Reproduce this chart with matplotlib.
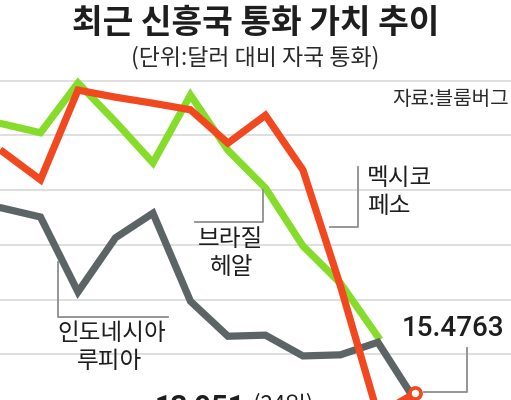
import matplotlib
matplotlib.use('Agg')
import matplotlib.pyplot as plt

plt.rcParams['font.family'] = ['Noto Sans CJK KR', 'DejaVu Sans']

# Values (relative scale, one step = one grid line)
months = list(range(12))
brazil_real = [5.21, 5.05, 5.96, 5.25, 4.50, 5.74, 4.73, 4.04, 2.98, 2.30, 1.32]
mexico_peso = [4.70, 4.19, 5.83, 5.70, 5.59, 5.47, 4.86, 5.37, 4.37, 2.25, -0.10, 0.29]
indonesia_rupiah = [3.67, 3.51, 2.14, 3.13, 3.58, 1.97, 1.33, 1.35, 0.97, 0.99, 1.22, 0.15]
grid_levels = [1, 2, 3, 4, 5, 6]

GREEN = '#86dc2a'
RED = '#f2481f'
GRAY = '#5d6466'
LEADER = '#8a8f91'
INK = '#1e1e1e'

fig = plt.figure(figsize=(5.11, 4.0), dpi=100)
ax = fig.add_axes([0, 0, 1, 1])
ax.set_xlim(-0.08, 13.55)
ax.set_ylim(0.1645, 7.477)
for s in ax.spines.values():
    s.set_visible(False)
ax.set_yticks(grid_levels)
ax.set_xticks([])
ax.tick_params(left=False, labelleft=False)
ax.grid(axis='y', color='#dcdcdc', lw=1.3)
ax.set_axisbelow(True)

lw = 5.2
ax.plot(months[:len(brazil_real)], brazil_real, color=GREEN, lw=lw, solid_joinstyle='miter', zorder=3)
ax.plot(months, indonesia_rupiah, color=GRAY, lw=lw, solid_joinstyle='miter', zorder=4)
ax.plot(months, mexico_peso, color=RED, lw=lw, solid_joinstyle='miter', zorder=5)
ax.plot(months[-1], mexico_peso[-1], 'o', ms=8, mfc='white', mec=RED, mew=2.6, zorder=6)

# titles
fig.text(0.5, 0.94, '최근 신흥국 통화 가치 추이', ha='center', va='center',
         fontsize=24, fontweight='black', color=INK)
fig.text(0.5, 0.855, '(단위:달러 대비 자국 통화)', ha='center', va='center',
         fontsize=16.5, fontweight='medium', color='#2a2a2a')
fig.text(0.995, 0.752, '자료:블룸버그', ha='right', va='center',
         fontsize=14.5, fontweight='medium', color='#2a2a2a')

# leader lines (figure pixel coordinates -> fraction)
def px(x, y):
    return x / 511, 1 - y / 400

def leader(points):
    xs, ys = zip(*[px(x, y) for x, y in points])
    fig.add_artist(plt.Line2D(xs, ys, color=LEADER, lw=1.3))

leader([(330, 227), (358, 227), (358, 167)])
leader([(195, 222), (263, 222), (263, 190)])
leader([(58, 262), (58, 317), (168, 317)])
leader([(424, 392), (467, 392), (467, 348)])

# series labels
label_kw = dict(fontsize=17, fontweight='medium', color=INK, va='center')
fig.text(*px(367, 178), '멕시코', ha='left', **label_kw)
fig.text(*px(367, 207), '페소', ha='left', **label_kw)
fig.text(*px(230, 240), '브라질', ha='center', **label_kw)
fig.text(*px(232, 268), '헤알', ha='center', **label_kw)
fig.text(*px(112, 333), '인도네시아', ha='center', **label_kw)
fig.text(*px(109, 362), '루피아', ha='center', **label_kw)

# value labels
fig.text(*px(453, 329), '15.4763', ha='center', va='center', fontsize=20,
         family=['Roboto', 'DejaVu Sans'], fontweight='medium', color=INK)
fig.text(*px(155, 393), '13,951', ha='left', va='top', fontsize=21,
         family=['Roboto', 'DejaVu Sans'], fontweight='bold', color=INK)
fig.text(*px(253, 393), '(24일)', ha='left', va='top', fontsize=16,
         color=INK)

fig.savefig('out.png', dpi=100)
